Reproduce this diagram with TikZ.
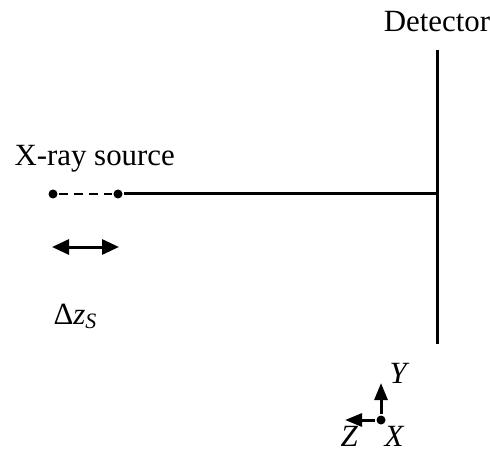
\documentclass[tikz,border=0pt]{standalone}
\usepackage{fontspec}
\setmainfont{Liberation Serif}
\usetikzlibrary{arrows.meta}

\begin{document}
\begin{tikzpicture}[x=1bp, y=-1bp, line width=3bp,
  dot/.style={circle, fill=black, inner sep=0pt, minimum size=9bp},
  txt/.style={inner sep=0pt, font=\fontsize{31}{36}\selectfont},
  tip/.style={-{Triangle[length=17bp,width=13bp]}}]
  \useasboundingbox (0,0) rectangle (490,453);
  \node[dot] (src) at (53,194) {};
  \node[dot] (mid) at (118,194) {};
  \coordinate (dtop) at (437,50);
  \coordinate (dbot) at (437,344);
  \coordinate (hit) at (437,194);
  \node[txt, anchor=base] (det) at (437,32) {Detector};
  \node[txt, anchor=base west] (srclabel) at (13,166) {X-ray source};
  \node[txt, anchor=base west] (dz) at (52,324) {Δ\textit{z}\raisebox{-0.35ex}{\fontsize{22}{24}\selectfont\textit{S}}};
  \draw (dtop) -- (dbot);
  \draw (mid) -- (hit);
  \draw[line width=2.2bp, dash pattern=on 9bp off 6bp] (src) -- (mid);
  \coordinate (dl) at (52,247);
  \coordinate (dr) at (119,247);
  \draw[{Triangle[length=17bp,width=15bp]}-{Triangle[length=17bp,width=15bp]}] (dl) -- (dr);
  % axes
  \node[dot] (o) at (381,420) {};
  \coordinate (ytip) at (381,383);
  \coordinate (ztip) at (345,420);
  \draw[tip] (o) -- (ytip);
  \draw[tip] (o) -- (ztip);
  \node[txt, anchor=base west] (ylab) at (388,383) {\textit{Y}};
  \node[txt, anchor=base west] (xlab) at (383,446) {\textit{X}};
  \node[txt, anchor=base west] (zlab) at (339,446) {\textit{Z}};
\end{tikzpicture}
\end{document}
